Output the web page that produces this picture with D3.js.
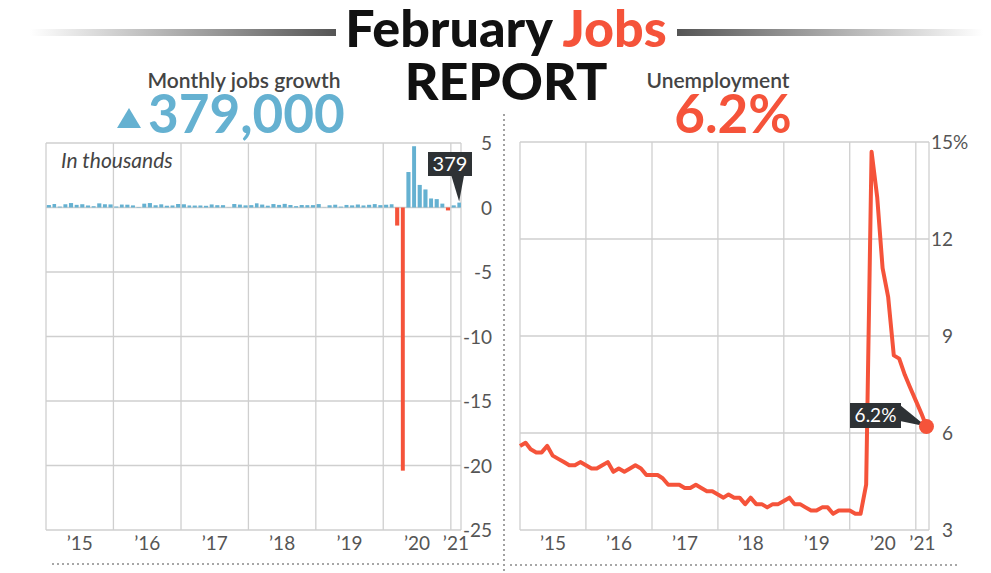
<!DOCTYPE html>
<html><head><meta charset="utf-8">
<script src="https://cdn.jsdelivr.net/npm/d3@7"></script>
<style>
html,body{margin:0;padding:0;background:#fff;}
svg{display:block;font-family:Lato,"Noto Sans",sans-serif;}
</style></head>
<body>
<svg id="chart" width="991" height="573"></svg>
<script>
// ---------- DATA ----------
const jobsStart = "2015-01";            // first month of the jobs series
// Monthly change in payrolls, thousands (Jan 2015 - Feb 2021)
const jobsGrowth = [
  190, 271, 70, 251, 344, 206, 254, 157, 100, 321, 252, 239,
  76, 229, 218, 163, 36, 297, 344, 175, 246, 137, 158, 271,
  250, 159, 151, 157, 132, 237, 179, 181, 15, 270, 224, 166,
  183, 324, 227, 140, 267, 201, 281, 193, 106, 192, 181, 184,
  265, 14, 173, 216, 66, 198, 165, 232, 159, 209, 264, 184,
  214, 251, -1400, -20400, 2750, 4750, 1750, 1400, 700, 650, 300, -227,
  166, 379
];
const unempStart = "2014-12";           // first month of the unemployment series
// Unemployment rate, % (Dec 2014 - Feb 2021)
const unemployment = [
  5.6,
  5.7, 5.5, 5.4, 5.4, 5.6, 5.3, 5.2, 5.1, 5.0, 5.0, 5.1, 5.0,
  4.9, 4.9, 5.0, 5.1, 4.8, 4.9, 4.8, 4.9, 5.0, 4.9, 4.7, 4.7,
  4.7, 4.6, 4.4, 4.4, 4.4, 4.3, 4.3, 4.4, 4.3, 4.2, 4.2, 4.1,
  4.0, 4.1, 4.0, 4.0, 3.8, 4.0, 3.8, 3.8, 3.7, 3.8, 3.8, 3.9,
  4.0, 3.8, 3.8, 3.7, 3.6, 3.6, 3.7, 3.7, 3.5, 3.6, 3.6, 3.6,
  3.5, 3.5, 4.4, 14.7, 13.3, 11.1, 10.2, 8.4, 8.3, 7.8, 7.4, 7.0,
  6.6, 6.2
];
const yearLabels = ["\u201915", "\u201916", "\u201917", "\u201918", "\u201919", "\u201920", "\u201921"];
const years = [2015, 2016, 2017, 2018, 2019, 2020, 2021];
const jobsTicks = [5, 0, -5, -10, -15, -20, -25];
const unempTicks = [15, 12, 9, 6, 3];
const headline = {title1: "February", title2: "Jobs", title3: "REPORT",
  leftLabel: "Monthly jobs growth", leftValue: "379,000",
  rightLabel: "Unemployment", rightValue: "6.2%",
  note: "In thousands", jobsCallout: "379", unempCallout: "6.2%"};

// ---------- STYLE ----------
const BLUE = "#65b1d1", RED = "#f5533a", DARK = "#2e3235", GRID = "#cfcfcf", TXT = "#555";

const svg = d3.select("#chart");
const parse = d3.timeParse("%Y-%m");

// ---------- HEADER ----------
const defs = svg.append("defs");
const gL = defs.append("linearGradient").attr("id", "gl").attr("x1", "0").attr("x2", "1");
gL.append("stop").attr("offset", "0").attr("stop-color", "#fff");
gL.append("stop").attr("offset", "1").attr("stop-color", "#555");
const gR = defs.append("linearGradient").attr("id", "gr").attr("x1", "0").attr("x2", "1");
gR.append("stop").attr("offset", "0").attr("stop-color", "#555");
gR.append("stop").attr("offset", "1").attr("stop-color", "#fff");
svg.append("rect").attr("x", 30).attr("y", 29).attr("width", 306).attr("height", 7).attr("fill", "url(#gl)");
svg.append("rect").attr("x", 677).attr("y", 29).attr("width", 306).attr("height", 7).attr("fill", "url(#gr)");

const t1 = svg.append("text").attr("x", 506).attr("y", 47).attr("text-anchor", "middle")
  .attr("font-size", 52).attr("font-weight", 900).attr("fill", "#111");
t1.append("tspan").text(headline.title1 + " ");
t1.append("tspan").attr("fill", RED).text(headline.title2);
svg.append("text").attr("x", 506).attr("y", 100).attr("text-anchor", "middle")
  .attr("font-size", 52).attr("font-weight", 900).attr("fill", "#111").text(headline.title3);

svg.append("text").attr("x", 244).attr("y", 88).attr("text-anchor", "middle")
  .attr("font-size", 21).attr("font-weight", 600).attr("fill", "#444").text(headline.leftLabel);
svg.append("path").attr("d", "M117,128 L129,108 L141,128 Z").attr("fill", BLUE);
svg.append("text").attr("x", 148).attr("y", 133).attr("font-size", 53).attr("font-weight", 700)
  .attr("fill", BLUE).text(headline.leftValue);
svg.append("text").attr("x", 718).attr("y", 88).attr("text-anchor", "middle")
  .attr("font-size", 21).attr("font-weight", 600).attr("fill", "#444").text(headline.rightLabel);
svg.append("text").attr("x", 733).attr("y", 133).attr("text-anchor", "middle").attr("font-size", 53)
  .attr("font-weight", 700).attr("fill", RED).text(headline.rightValue);

// dotted separators
const dot = {stroke: "#8a8a8a", "stroke-width": 1.6, "stroke-dasharray": "2,3"};
function dotted(x1, y1, x2, y2) {
  const l = svg.append("line").attr("x1", x1).attr("y1", y1).attr("x2", x2).attr("y2", y2);
  Object.entries(dot).forEach(([k, v]) => l.attr(k, v));
}
dotted(504, 114, 504, 573);
dotted(52, 564, 502, 564);
dotted(510, 565, 957, 565);

// ---------- LEFT: jobs bars ----------
const L = {x0: 46, x1: 461, y0: 143, y1: 530};
const jStart = parse(jobsStart);
const jobsData = jobsGrowth.map((v, i) => ({date: d3.timeMonth.offset(jStart, i), v: v / 1000}));
const xJ = d3.scaleTime().domain([parse("2015-01"), new Date(2021, 1, 25)]).range([L.x0, L.x1]);
const yJ = d3.scaleLinear().domain([-25, 5]).range([L.y1, L.y0]);
const gl = svg.append("g");
// grid
gl.selectAll("line.h").data(jobsTicks).join("line")
  .attr("x1", L.x0).attr("x2", L.x1).attr("y1", d => yJ(d)).attr("y2", d => yJ(d))
  .attr("stroke", GRID).attr("stroke-width", 1.3);
gl.selectAll("line.v").data(years).join("line")
  .attr("x1", d => xJ(new Date(d, 0, 1))).attr("x2", d => xJ(new Date(d, 0, 1)))
  .attr("y1", L.y0).attr("y2", L.y1).attr("stroke", GRID).attr("stroke-width", 1.3);
gl.append("line").attr("x1", L.x1).attr("x2", L.x1).attr("y1", L.y0).attr("y2", L.y1)
  .attr("stroke", GRID).attr("stroke-width", 1.3);
// y axis
const axJ = d3.axisRight(yJ).tickValues(jobsTicks).tickSize(0).tickPadding(0)
  .tickFormat(d => d3.format("")(d).replace("\u2212", "-"));
const gaxJ = svg.append("g").attr("transform", `translate(492,0)`).call(axJ);
gaxJ.select(".domain").remove();
gaxJ.selectAll("text").attr("text-anchor", "end").attr("font-size", 19).attr("fill", TXT)
  .attr("font-family", "Lato").attr("dy", "0.35em");
// x labels
gl.selectAll("text.yr").data(years).join("text")
  .attr("x", d => {
    const a = xJ(new Date(d, 0, 1)), b = Math.min(xJ(new Date(d + 1, 0, 1)), L.x1);
    return (a + b) / 2;
  })
  .attr("y", 550).attr("text-anchor", "middle").attr("font-size", 19).attr("fill", TXT)
  .text((d, i) => yearLabels[i]);
// bars
gl.selectAll("rect.bar").data(jobsData).join("rect")
  .attr("x", d => xJ(d.date) + 0.8)
  .attr("width", d => Math.max(0.5, Math.min(xJ(d3.timeMonth.offset(d.date, 1)), L.x1 + 1) - xJ(d.date) - 1.6))
  .attr("y", d => yJ(Math.max(0, d.v)))
  .attr("height", d => Math.abs(yJ(d.v) - yJ(0)))
  .attr("fill", d => d.v < 0 ? RED : BLUE);
svg.append("text").attr("x", 61).attr("y", 168).attr("font-size", 21).attr("font-style", "italic")
  .attr("fill", "#444").text(headline.note);
// callout 379
const lastJ = jobsData[jobsData.length - 1];
const lx = xJ(lastJ.date) + (xJ(d3.timeMonth.offset(lastJ.date, 1)) - xJ(lastJ.date)) / 2;
const ly = yJ(lastJ.v);
svg.append("rect").attr("x", 428).attr("y", 152).attr("width", 44).attr("height", 24).attr("fill", DARK);
svg.append("path").attr("d", `M${lx - 8},175 L${lx + 5},175 L${lx},${ly - 1} Z`).attr("fill", DARK);
svg.append("text").attr("x", 450).attr("y", 171).attr("text-anchor", "middle").attr("font-size", 20)
  .attr("fill", "#fff").text(headline.jobsCallout);

// ---------- RIGHT: unemployment ----------
const R = {x0: 520, x1: 929, y0: 142, y1: 530};
const uStart = parse(unempStart);
// each monthly value is plotted at the end of its month
const unempData = unemployment.map((v, i) => ({date: d3.timeMonth.offset(uStart, i + 1), v}));
const xU = d3.scaleTime().domain([parse("2015-01"), new Date(2021, 2, 15)]).range([R.x0, R.x1]);
const yU = d3.scaleLinear().domain([3, 15]).range([R.y1, R.y0]);
const gr = svg.append("g");
gr.selectAll("line.h").data(unempTicks).join("line")
  .attr("x1", R.x0).attr("x2", R.x1).attr("y1", d => yU(d)).attr("y2", d => yU(d))
  .attr("stroke", GRID).attr("stroke-width", 1.3);
gr.selectAll("line.v").data(years).join("line")
  .attr("x1", d => xU(new Date(d, 0, 1))).attr("x2", d => xU(new Date(d, 0, 1)))
  .attr("y1", R.y0).attr("y2", R.y1).attr("stroke", GRID).attr("stroke-width", 1.3);
gr.append("line").attr("x1", R.x1).attr("x2", R.x1).attr("y1", R.y0).attr("y2", R.y1)
  .attr("stroke", GRID).attr("stroke-width", 1.3);
const axU = d3.axisRight(yU).tickValues(unempTicks).tickSize(0).tickPadding(0);
const gaxU = svg.append("g").attr("transform", `translate(953,0)`).call(axU);
gaxU.select(".domain").remove();
gaxU.selectAll("text").attr("text-anchor", "end").attr("font-size", 19).attr("fill", TXT)
  .attr("font-family", "Lato").attr("dy", "0.35em");
svg.append("text").attr("x", 953).attr("y", yU(15)).attr("dy", "0.35em").attr("font-size", 19)
  .attr("fill", TXT).text("%");
gr.selectAll("text.yr").data(years).join("text")
  .attr("x", d => {
    const a = xU(new Date(d, 0, 1)), b = Math.min(xU(new Date(d + 1, 0, 1)), R.x1);
    return (a + b) / 2;
  })
  .attr("y", 550).attr("text-anchor", "middle").attr("font-size", 19).attr("fill", TXT)
  .text((d, i) => yearLabels[i]);
const line = d3.line().x(d => xU(d.date)).y(d => yU(d.v));
gr.append("path").datum(unempData).attr("d", line).attr("fill", "none").attr("stroke", RED)
  .attr("stroke-width", 4).attr("stroke-linejoin", "round");
const lastU = unempData[unempData.length - 1];
const ux = xU(lastU.date), uy = yU(lastU.v);
svg.append("rect").attr("x", 850).attr("y", 403).attr("width", 51).attr("height", 25).attr("fill", DARK);
svg.append("path").attr("d", `M900,405 L900,421 L${ux},${uy} Z`).attr("fill", DARK);
svg.append("circle").attr("cx", ux).attr("cy", uy).attr("r", 7.5).attr("fill", RED);
svg.append("text").attr("x", 875.5).attr("y", 422).attr("text-anchor", "middle").attr("font-size", 19)
  .attr("fill", "#fff").text(headline.unempCallout);
</script>
</body></html>
